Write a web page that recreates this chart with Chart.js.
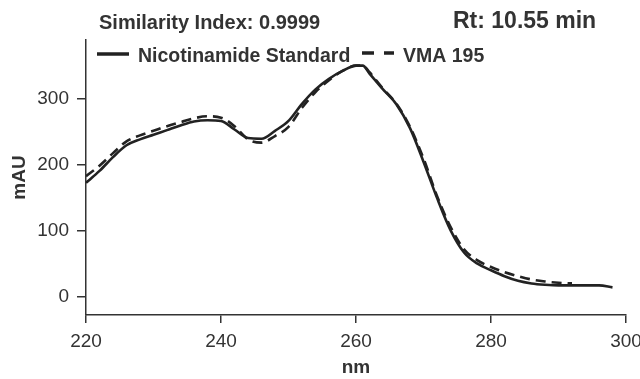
<!DOCTYPE html>
<html>
<head>
<meta charset="utf-8">
<script src="https://cdn.jsdelivr.net/npm/chart.js@4.4.1/dist/chart.umd.min.js"></script>
<style>
  html, body { margin: 0; padding: 0; background: #fff; }
  #wrap { width: 640px; height: 379px; position: relative; }
</style>
</head>
<body>
<div id="wrap"><canvas id="spectrum"></canvas></div>
<script>
const wavelengths = [220, 222, 224, 226, 228, 230, 232, 234, 236, 238, 240, 242, 244, 246, 248, 250,
  252, 254, 256, 258, 260, 261, 262, 264, 266, 268, 270, 272, 274, 276, 278, 280, 282, 284, 286, 288,
  290, 292, 294, 296, 298];
const standardValues = [173, 191, 212, 230, 239, 246, 253, 260, 266, 268, 267, 254, 241, 240, 252, 267,
  293, 315, 331, 343, 351, 351, 339, 315, 292, 256, 205, 150, 101, 67, 50, 40, 31, 24, 20, 18,
  17, 17, 17, 17, 14];
const vmaValues = [183, 199, 218, 236, 245, 252, 259, 265, 271, 274, 272, 259, 239, 234, 244, 258,
  287, 311, 329, 343, 351, 351, 341, 316, 293, 258, 210, 153, 106, 72, 55, 45, 37, 31, 26, 23,
  21, 20, null, null, null];
const yTicks = [0, 100, 200, 300];
const xTicks = [220, 240, 260, 280, 300];

const textColor = "#333";
const lineColor = "#222";
const fontFamily = "'Liberation Sans', Arial, sans-serif";

const toPoints = (vals) => wavelengths.map((w, i) => ({ x: w, y: vals[i] }));

// titles + legend drawn on top of the plot
const annotations = {
  id: "annotations",
  afterDraw(chart) {
    const ctx = chart.ctx;
    ctx.save();
    ctx.fillStyle = textColor;
    ctx.textBaseline = "middle";

    ctx.font = "bold 20px " + fontFamily;
    ctx.fillText("Similarity Index: 0.9999", 99, 23);
    ctx.font = "bold 23px " + fontFamily;
    ctx.fillText("Rt: 10.55 min", 453, 22);

    // legend
    ctx.strokeStyle = lineColor;
    ctx.lineWidth = 3.5;
    ctx.beginPath();
    ctx.moveTo(97, 54);
    ctx.lineTo(129, 54);
    ctx.stroke();
    ctx.font = "bold 19.5px " + fontFamily;
    ctx.fillText("Nicotinamide Standard", 138, 57);

    ctx.setLineDash([12, 10]);
    ctx.beginPath();
    ctx.moveTo(362, 53);
    ctx.lineTo(394, 53);
    ctx.stroke();
    ctx.setLineDash([]);
    ctx.fillText("VMA 195", 403, 57);
    ctx.restore();
  },
};

new Chart(document.getElementById("spectrum"), {
  type: "line",
  data: {
    datasets: [
      {
        label: "Nicotinamide Standard",
        data: toPoints(standardValues),
        borderColor: lineColor,
        borderWidth: 2.6,
        pointRadius: 0,
        cubicInterpolationMode: "monotone",
        fill: false,
      },
      {
        label: "VMA 195",
        data: toPoints(vmaValues),
        borderColor: lineColor,
        borderWidth: 2.6,
        borderDash: [10, 6],
        pointRadius: 0,
        cubicInterpolationMode: "monotone",
        spanGaps: false,
        fill: false,
      },
    ],
  },
  options: {
    responsive: true,
    maintainAspectRatio: false,
    animation: false,
    layout: { padding: { top: 40, right: 14, left: 0, bottom: 0 } },
    plugins: {
      legend: { display: false },
      tooltip: { enabled: false },
    },
    scales: {
      x: {
        type: "linear",
        min: 220,
        max: 300,
        afterBuildTicks: (scale) => { scale.ticks = xTicks.map((v) => ({ value: v })); },
        afterFit: (scale) => {
          scale.height = 64;
          scale.paddingLeft = 0;
          scale.paddingRight = 0;
        },
        border: { color: textColor, width: 1.5 },
        grid: { drawOnChartArea: false, tickLength: 8, color: textColor, lineWidth: 1.5 },
        ticks: { color: textColor, font: { family: fontFamily, size: 19 }, padding: 7, maxRotation: 0 },
        title: {
          display: true,
          text: "nm",
          color: textColor,
          font: { family: fontFamily, size: 19, weight: "bold" },
          padding: { top: 3, bottom: 0 },
        },
      },
      y: {
        min: -28,
        max: 390,
        afterBuildTicks: (scale) => { scale.ticks = yTicks.map((v) => ({ value: v })); },
        afterFit: (scale) => { scale.width = 86; },
        border: { color: textColor, width: 1.5 },
        grid: { drawOnChartArea: false, tickLength: 9, color: textColor, lineWidth: 1.5 },
        ticks: { color: textColor, font: { family: fontFamily, size: 19 }, padding: 8 },
        title: {
          display: true,
          text: "mAU",
          color: textColor,
          font: { family: fontFamily, size: 19, weight: "bold" },
          padding: { top: 8, bottom: 0 },
        },
      },
    },
  },
  plugins: [annotations],
});
</script>
</body>
</html>
